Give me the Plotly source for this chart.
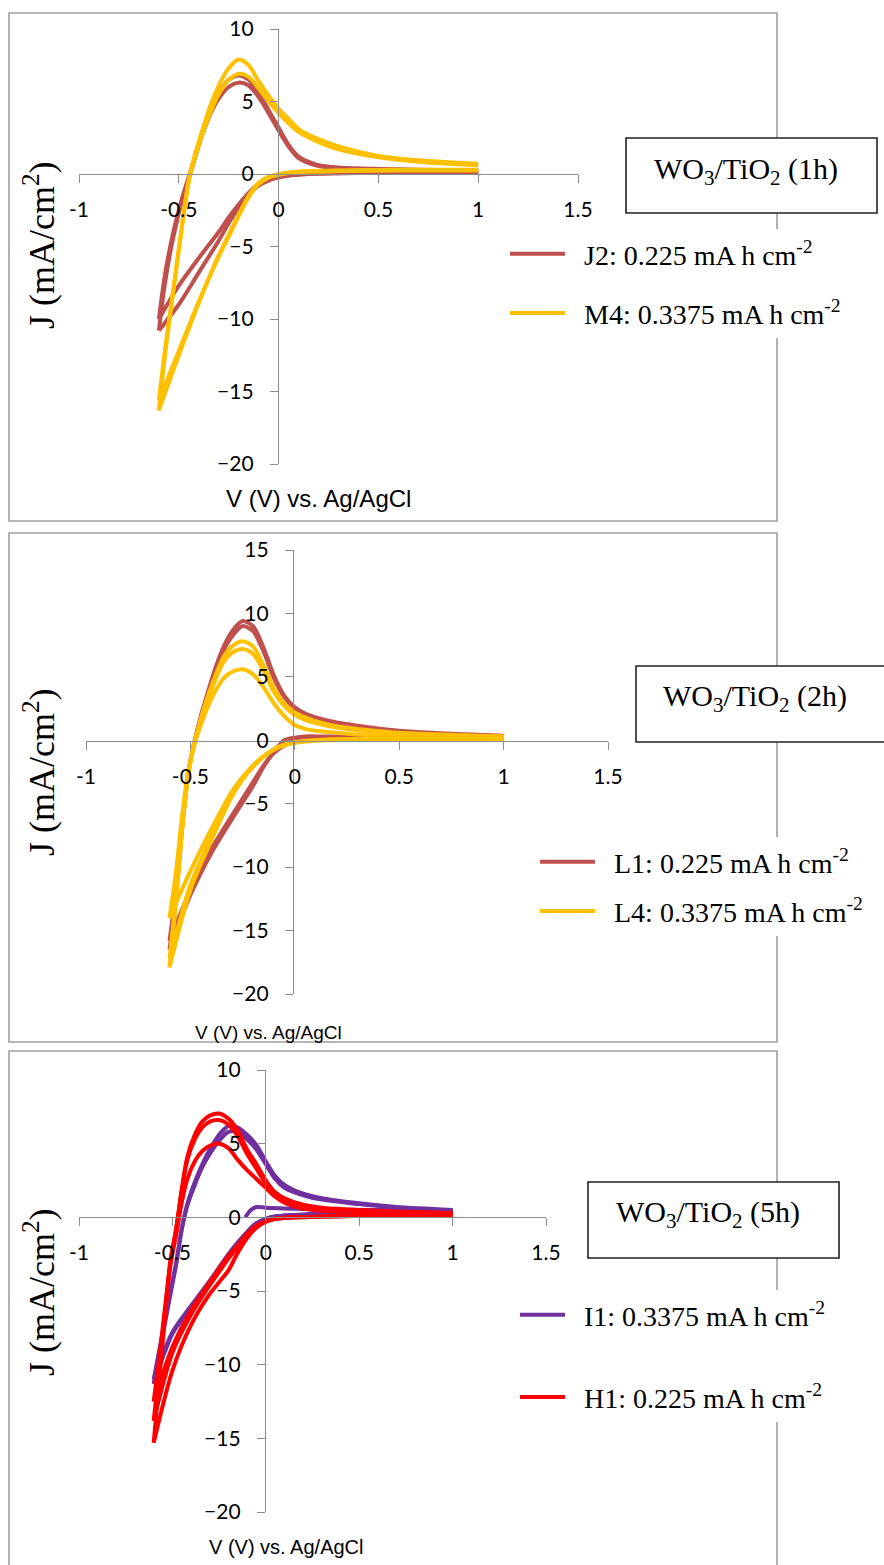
import plotly.graph_objects as go

W, H = 884, 1565

# ---------------- shared potential grids (V vs Ag/AgCl) ----------------
V_CATH = [1.0, 0.6, 0.3, 0.15, 0.05, 0.0, -0.05, -0.1, -0.15, -0.2, -0.25, -0.3, -0.4, -0.5, -0.6]
V_AN = [-0.6, -0.57, -0.54, -0.51, -0.48, -0.45, -0.42, -0.38, -0.34, -0.3, -0.25, -0.2,
        -0.15, -0.1, -0.05, 0.0, 0.05, 0.1, 0.2, 0.3, 0.5, 0.7, 1.0]

X_TICKS = [-1, -0.5, 0, 0.5, 1, 1.5]
X_TICKTEXT = ["-1", "-0.5", "0", "0.5", "1", "1.5"]

# ---------------- Panel 1 : WO3/TiO2 (1h) ----------------
J2_c1_cath = [0.1, 0.1, 0.05, 0.0, -0.1, -0.25, -0.45, -0.8, -1.4, -2.3, -3.4, -4.6, -6.8, -9.0, -10.8]
J2_c1_an = [-10.8, -7.6, -5.2, -3.3, -1.6, -0.3, 1.1, 3.0, 4.5, 5.6, 6.5, 6.8, 6.5, 5.6, 4.4, 3.2, 2.0, 1.2, 0.6, 0.45, 0.35, 0.3, 0.25]
J2_c2_cath = [0.1, 0.1, 0.05, 0.0, -0.1, -0.2, -0.4, -0.7, -1.3, -2.1, -3.0, -4.0, -5.8, -7.7, -10.0]
J2_c2_an = [-10.0, -7.0, -4.8, -3.0, -1.5, -0.2, 1.1, 2.8, 4.2, 5.2, 6.0, 6.3, 6.1, 5.3, 4.2, 3.0, 1.9, 1.1, 0.55, 0.4, 0.3, 0.25, 0.2]

M4_c1_cath = [0.3, 0.3, 0.25, 0.2, 0.1, 0.0, -0.2, -0.6, -1.5, -2.8, -4.2, -5.6, -8.9, -12.5, -16.3]
M4_c1_an = [-16.3, -12.6, -9.4, -6.3, -3.2, -0.4, 1.3, 3.1, 4.8, 6.1, 7.3, 7.9, 7.5, 6.4, 5.4, 4.5, 3.8, 3.1, 2.4, 1.9, 1.25, 0.95, 0.7]
M4_c2_cath = [0.25, 0.25, 0.2, 0.15, 0.05, -0.05, -0.25, -0.7, -1.6, -2.9, -4.3, -5.7, -8.8, -12.2, -15.6]
M4_c2_an = [-15.6, -12.2, -9.2, -6.2, -3.2, -0.5, 1.1, 2.8, 4.3, 5.5, 6.5, 6.9, 6.7, 5.9, 5.0, 4.2, 3.5, 2.9, 2.2, 1.7, 1.15, 0.85, 0.6]

# ---------------- Panel 2 : WO3/TiO2 (2h) ----------------
L1_c1_cath = [0.3, 0.3, 0.3, 0.3, 0.3, 0.2, 0.0, -0.9, -2.1, -3.6, -4.9, -6.2, -8.9, -12.2, -16.5]
L1_c1_an = [-16.5, -12.5, -7.0, -2.6, -0.1, 1.9, 3.6, 5.7, 7.4, 8.6, 9.4, 9.0, 7.3, 5.1, 3.5, 2.6, 2.1, 1.8, 1.4, 1.15, 0.75, 0.55, 0.35]
L1_c2_cath = [0.2, 0.2, 0.15, 0.1, 0.0, -0.1, -0.4, -1.0, -2.0, -3.3, -4.6, -5.9, -8.6, -11.8, -15.8]
L1_c2_an = [-15.8, -12.0, -6.8, -2.5, -0.1, 1.8, 3.4, 5.4, 7.1, 8.2, 9.0, 8.6, 7.0, 4.9, 3.4, 2.5, 2.0, 1.7, 1.3, 1.05, 0.7, 0.5, 0.3]

L4_c1_cath = [0.15, 0.15, 0.1, 0.05, -0.05, -0.15, -0.35, -0.7, -1.3, -2.1, -3.1, -4.4, -7.9, -11.8, -17.9]
L4_c1_an = [-17.9, -13.0, -7.2, -2.7, -0.2, 1.7, 3.3, 5.1, 6.6, 7.4, 7.8, 7.4, 5.9, 4.1, 2.9, 2.2, 1.8, 1.5, 1.1, 0.9, 0.6, 0.45, 0.3]
L4_c2_cath = [0.15, 0.15, 0.1, 0.05, -0.05, -0.15, -0.35, -0.7, -1.25, -2.0, -3.0, -4.2, -7.6, -11.4, -17.2]
L4_c2_an = [-17.2, -12.6, -7.0, -2.6, -0.2, 1.6, 3.1, 4.8, 6.2, 6.9, 7.2, 6.8, 5.5, 3.8, 2.7, 2.0, 1.6, 1.35, 1.0, 0.8, 0.55, 0.4, 0.3]
L4_c3_cath = [0.1, 0.1, 0.05, 0.0, -0.1, -0.2, -0.4, -0.75, -1.3, -2.0, -2.9, -4.0, -7.0, -10.3, -14.0]
L4_c3_an = [-14.0, -10.5, -6.0, -2.4, -0.3, 1.2, 2.5, 3.9, 4.9, 5.4, 5.6, 5.2, 4.2, 2.9, 1.9, 1.2, 0.9, 0.75, 0.6, 0.45, 0.3, 0.25, 0.2]

# ---------------- Panel 3 : WO3/TiO2 (5h) ----------------
I1_start_v = [-0.11, -0.08, -0.05, 0.0, 0.1, 0.3, 0.6, 1.0]
I1_start_j = [0.0, 0.5, 0.7, 0.65, 0.6, 0.55, 0.5, 0.45]
I1_c1_cath = [0.3, 0.3, 0.25, 0.15, 0.05, -0.1, -0.4, -1.0, -1.8, -2.6, -3.5, -4.4, -6.1, -7.9, -11.3]
I1_c1_an = [-11.3, -9.2, -7.2, -5.2, -3.2, -0.8, 0.9, 2.4, 3.6, 4.6, 5.6, 6.2, 6.1, 5.6, 4.9, 3.8, 2.8, 2.2, 1.6, 1.3, 0.95, 0.7, 0.5]
I1_c2_cath = [0.3, 0.3, 0.25, 0.15, 0.05, -0.1, -0.4, -1.0, -1.7, -2.5, -3.4, -4.3, -6.0, -7.8, -11.0]
I1_c2_an = [-11.0, -9.0, -7.0, -5.0, -3.1, -0.8, 0.8, 2.2, 3.4, 4.3, 5.2, 5.8, 5.8, 5.3, 4.6, 3.6, 2.6, 2.0, 1.5, 1.2, 0.9, 0.65, 0.45]

H1_c1_cath = [0.1, 0.1, 0.05, 0.0, -0.1, -0.3, -0.7, -1.4, -2.4, -3.6, -4.4, -5.2, -7.3, -10.4, -15.3]
H1_c1_an = [-15.3, -11.0, -6.8, -3.0, -0.8, 1.9, 4.1, 5.6, 6.5, 6.9, 7.05, 6.7, 5.9, 4.6, 3.6, 2.5, 1.7, 1.3, 0.85, 0.65, 0.5, 0.4, 0.3]
H1_c2_cath = [0.1, 0.1, 0.05, 0.0, -0.1, -0.3, -0.6, -1.2, -2.0, -2.8, -3.7, -4.6, -6.6, -9.2, -13.8]
H1_c2_an = [-13.8, -10.2, -6.4, -2.9, -0.8, 1.8, 3.9, 5.3, 6.1, 6.5, 6.6, 6.3, 5.5, 4.3, 3.3, 2.3, 1.6, 1.2, 0.8, 0.6, 0.45, 0.35, 0.3]
H1_c3_cath = [0.1, 0.1, 0.05, 0.0, -0.1, -0.25, -0.55, -1.1, -1.9, -2.6, -3.5, -4.4, -6.3, -8.8, -12.5]
H1_c3_an = [-12.5, -9.5, -6.2, -3.2, -1.2, 1.0, 2.6, 3.8, 4.5, 4.85, 5.0, 4.7, 3.9, 3.2, 2.6, 2.0, 1.4, 1.0, 0.6, 0.45, 0.35, 0.3, 0.25]

NB = "\u00a0\u00a0"
LABELS = {
    "J2": NB + "J2: 0.225 mA h cm<sup>-2</sup>",
    "M4": NB + "M4: 0.3375 mA h cm<sup>-2</sup>",
    "L1": NB + "L1: 0.225 mA h cm<sup>-2</sup>",
    "L4": NB + "L4: 0.3375 mA h cm<sup>-2</sup>",
    "I1": NB + "I1: 0.3375 mA h cm<sup>-2</sup>",
    "H1": NB + "H1: 0.225 mA h cm<sup>-2</sup>",
}
TITLES = ["WO<sub>3</sub>/TiO<sub>2</sub> (1h)", "WO<sub>3</sub>/TiO<sub>2</sub> (2h)", "WO<sub>3</sub>/TiO<sub>2</sub> (5h)"]

C_BROWN = "#C0504D"
C_GOLD = "#FFC000"
C_PURPLE = "#7030A0"
C_RED = "#FF0000"
GRAY = "#8C8C8C"
BORDER = "#A0A0A0"


def loops(cycles):
    xs, ys = [], []
    for cath, an in cycles:
        xs += V_CATH + [None] + V_AN + [None]
        ys += cath + [None] + an + [None]
    return xs, ys


fig = go.Figure()


def add_series(key, cycles, color, xa, ya, leg, show=True):
    xs, ys = loops(cycles)
    fig.add_trace(go.Scatter(
        x=xs, y=ys, mode="lines", name=LABELS[key], legendgroup=key, legend=leg,
        showlegend=show, xaxis=xa, yaxis=ya, connectgaps=False,
        line=dict(color=color, width=4, shape="spline", smoothing=0.8)))


add_series("J2", [(J2_c1_cath, J2_c1_an), (J2_c2_cath, J2_c2_an)], C_BROWN, "x", "y", "legend")
add_series("M4", [(M4_c1_cath, M4_c1_an), (M4_c2_cath, M4_c2_an)], C_GOLD, "x", "y", "legend")
add_series("L1", [(L1_c1_cath, L1_c1_an), (L1_c2_cath, L1_c2_an)], C_BROWN, "x2", "y2", "legend2")
add_series("L4", [(L4_c1_cath, L4_c1_an), (L4_c2_cath, L4_c2_an), (L4_c3_cath, L4_c3_an)], C_GOLD, "x2", "y2", "legend2")
fig.add_trace(go.Scatter(x=I1_start_v, y=I1_start_j, mode="lines", legendgroup="I1", legend="legend3",
                         showlegend=False, xaxis="x3", yaxis="y3",
                         line=dict(color=C_PURPLE, width=4, shape="spline", smoothing=0.8)))
add_series("I1", [(I1_c1_cath, I1_c1_an), (I1_c2_cath, I1_c2_an)], C_PURPLE, "x3", "y3", "legend3")
add_series("H1", [(H1_c1_cath, H1_c1_an), (H1_c2_cath, H1_c2_an), (H1_c3_cath, H1_c3_an)], C_RED, "x3", "y3", "legend3")

TICKFONT = dict(family="Lato, Carlito, Arial", size=21, color="black")


def xaxis(d0, d1, pos):
    return dict(domain=[d0 / W, d1 / W], range=[-1, 1.5], anchor="free", position=1 - pos / H,
                tickmode="array", tickvals=X_TICKS, ticktext=X_TICKTEXT,
                ticks="outside", ticklen=8, tickcolor=GRAY, tickwidth=1.3,
                showline=True, linecolor=GRAY, linewidth=1.3, showgrid=False, zeroline=False,
                tickfont=TICKFONT, ticklabelstandoff=9, fixedrange=True)


def yaxis(top, bot, rng, dtick, pos):
    return dict(domain=[1 - bot / H, 1 - top / H], range=rng, anchor="free", position=pos / W,
                tickmode="linear", tick0=rng[0], dtick=dtick,
                ticks="outside", ticklen=8, tickcolor=GRAY, tickwidth=1.3,
                showline=True, linecolor=GRAY, linewidth=1.3, showgrid=False, zeroline=False,
                tickfont=TICKFONT, ticklabelstandoff=12, fixedrange=True)


LEGFONT = dict(family="Liberation Serif, Times New Roman, serif", size=28, color="black")

fig.update_layout(
    width=W, height=H, margin=dict(l=0, r=0, t=0, b=0, autoexpand=False),
    paper_bgcolor="white", plot_bgcolor="rgba(0,0,0,0)",
    xaxis=xaxis(79, 578, 174), yaxis=yaxis(29, 464, [-20, 10], 5, 278),
    xaxis2=xaxis(86, 608, 740.7), yaxis2=yaxis(550, 994, [-20, 15], 5, 293),
    xaxis3=xaxis(79, 546, 1217), yaxis3=yaxis(1070, 1512, [-20, 10], 5, 265),
    legend=dict(x=505 / W, y=1 - 229 / H, xanchor="left", yanchor="top", bgcolor="white",
                font=LEGFONT, itemwidth=55, tracegroupgap=20),
    legend2=dict(x=535 / W, y=1 - 837 / H, xanchor="left", yanchor="top", bgcolor="white",
                 font=LEGFONT, itemwidth=55, tracegroupgap=10),
    legend3=dict(x=515 / W, y=1 - 1290 / H, xanchor="left", yanchor="top", bgcolor="white",
                 font=LEGFONT, itemwidth=45, tracegroupgap=43),
    showlegend=True,
)


def rect(x0, y0, x1, y1, color, width, fill=None):
    fig.add_shape(type="rect", xref="paper", yref="paper",
                  x0=x0 / W, x1=x1 / W, y0=1 - y1 / H, y1=1 - y0 / H,
                  line=dict(color=color, width=width),
                  fillcolor=fill if fill else "rgba(0,0,0,0)", layer="above")


rect(9, 13, 777, 521, BORDER, 1.6)
rect(9, 533, 777, 1042, BORDER, 1.6)
rect(9, 1051, 777, 1580, BORDER, 1.6)
rect(626, 138, 877, 213, "#222222", 1.6, "white")
rect(636, 666, 892, 742, "#222222", 1.6, "white")
rect(588, 1182, 839, 1258, "#222222", 1.6, "white")

SERIF = "Liberation Serif, Times New Roman, serif"
SANS = "Liberation Sans, Arial, sans-serif"


def ann(text, x, y, size, family, angle=0):
    fig.add_annotation(text=text, x=x / W, y=1 - y / H, xref="paper", yref="paper",
                       showarrow=False, textangle=angle, xanchor="center", yanchor="middle",
                       font=dict(family=family, size=size, color="black"))


ann(TITLES[0], 746, 171, 30, SERIF)
ann(TITLES[1], 755, 698, 30, SERIF)
ann(TITLES[2], 708, 1214, 30, SERIF)

YT = "J (mA/cm<sup>2</sup>)"
ann(YT, 39, 245, 36, SERIF, -90)
ann(YT, 39, 772, 36, SERIF, -90)
ann(YT, 39, 1292, 36, SERIF, -90)

XT = "V (V) vs. Ag/AgCl"
ann(XT, 318, 498, 24, SANS)
ann(XT, 268, 1032, 19, SANS)
ann(XT, 286, 1547, 20, SANS)

fig.write_html("out.html")
